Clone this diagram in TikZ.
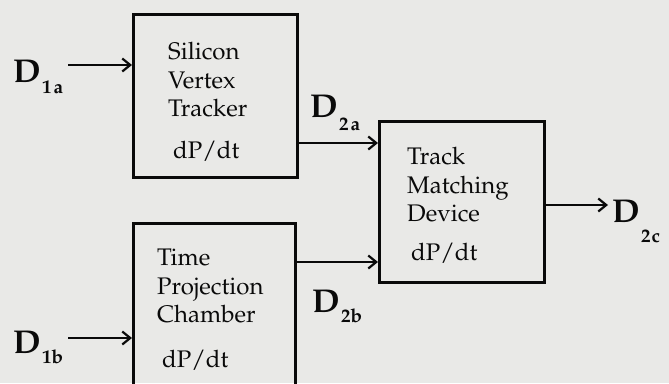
\documentclass[tikz,border=0pt]{standalone}
\usepackage[T1]{fontenc}
\usepackage{mathpazo}
\usetikzlibrary{arrows.meta}
\definecolor{bg}{RGB}{233,233,231}
\definecolor{ink}{RGB}{10,10,10}
\newcommand{\Dlab}[2]{{\fontsize{33}{33}\selectfont\bfseries D}\kern1.5pt\raisebox{-#2}{\fontsize{19}{19}\selectfont\bfseries #1}}
\tikzset{
  box/.style={draw=ink, line width=3pt, inner sep=0pt},
  boxtext/.style={anchor=north west, inner sep=0pt, align=left, font=\fontsize{24}{28.5}\selectfont, text=ink},
  dlabel/.style={anchor=base west, inner sep=0pt, text=ink},
  arr/.style={draw=ink, line width=2.2pt, -{Straight Barb[length=8pt,width=13pt,line width=2.2pt]}},
}
\begin{document}
\begin{tikzpicture}[x=1pt,y=-1pt]
\useasboundingbox (0,0) rectangle (669,383);
\clip (0,0) rectangle (669,383);
\fill[bg] (0,0) rectangle (669,383);

% boxes
\node[box, minimum width=164pt, minimum height=163pt] (svt) at (215.5,96) {};
\node[box, minimum width=162pt, minimum height=170pt] (tpc) at (214.5,308.5) {};
\node[box, minimum width=165pt, minimum height=161pt] (tmd) at (462,202) {};

% box texts
\node[boxtext] (svtT) at (168,42) {Silicon\\Vertex\\Tracker\\[13pt]\hspace*{5pt}dP/dt};
\node[boxtext] (tpcT) at (157,249) {Time\\Projection\\Chamber\\[16pt]\hspace*{5pt}dP/dt};
\node[boxtext] (tmdT) at (407,147) {Track\\Matching\\Device\\[10pt]\hspace*{4pt}dP/dt};

% labels
\node[dlabel] (d1a) at (13,82) {\Dlab{1\kern2pt a}{11pt}};
\node[dlabel] (d1b) at (13,353) {\Dlab{1b}{10pt}};
\node[dlabel] (d2a) at (310,117) {\Dlab{2\kern2pt a}{13pt}};
\node[dlabel] (d2b) at (312,312) {\Dlab{2b}{10pt}};
\node[dlabel] (d2c) at (612,222) {\Dlab{2\kern1pt c}{20pt}};

% connectors
\coordinate (a1) at (68,65);
\coordinate (b1) at (68,338);
\coordinate (ya) at (0,143);
\coordinate (yb) at (0,262);
\coordinate (yc) at (0,205);
\coordinate (cEnd) at (608,205);
\draw[arr] (a1) -- (a1 -| svt.west);
\draw[arr] (b1) -- (b1 -| tpc.west);
\draw[arr] (svt.east |- ya) -- (tmd.west |- ya);
\draw[arr] (tpc.east |- yb) -- (tmd.west |- yb);
\draw[arr] (tmd.east |- yc) -- (cEnd);
\end{tikzpicture}
\end{document}
